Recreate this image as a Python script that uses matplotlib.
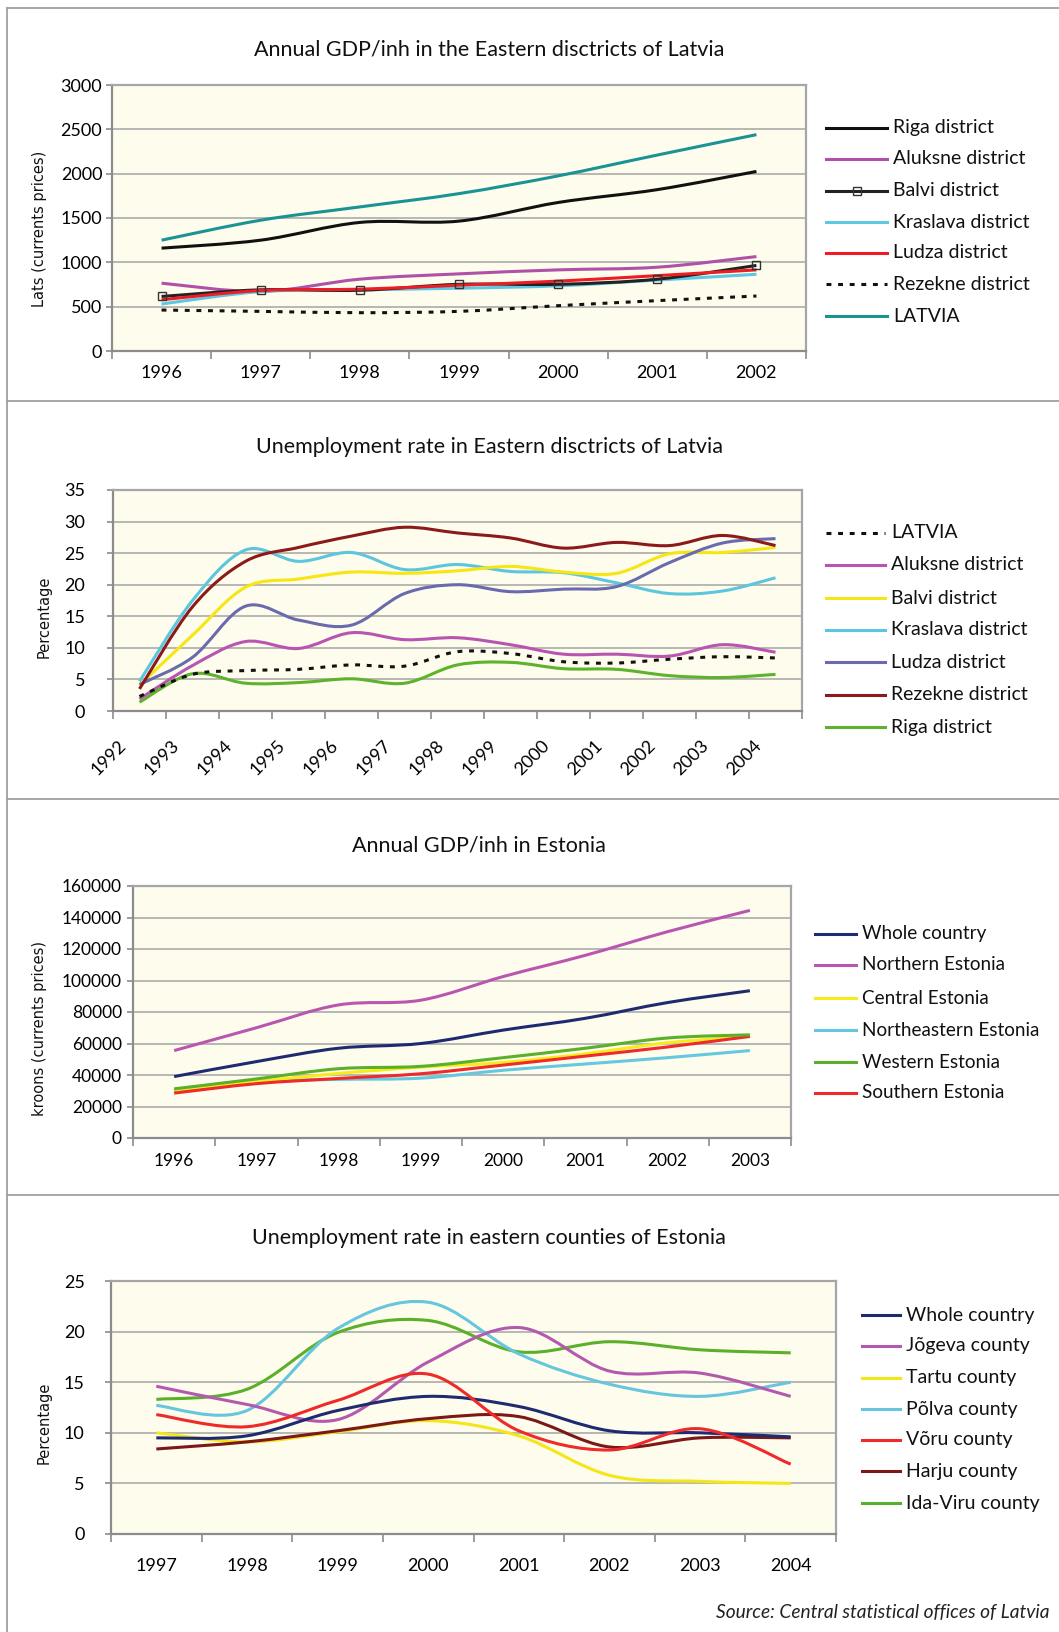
import numpy as np
import matplotlib
matplotlib.use('Agg')
import matplotlib.pyplot as plt
from matplotlib.path import Path
from matplotlib.patches import PathPatch
from matplotlib.lines import Line2D
from matplotlib.transforms import ScaledTranslation

W, H = 1059, 1632

# GDP per inhabitant, eastern districts of Latvia (lats, current prices)
lv_gdp_years = ['1996', '1997', '1998', '1999', '2000', '2001', '2002']
lv_gdp_riga = [1160, 1250, 1450, 1465, 1675, 1820, 2025]
lv_gdp_aluksne = [765, 672, 810, 870, 915, 945, 1065]
lv_gdp_balvi = [615, 690, 685, 752, 752, 810, 965]
lv_gdp_kraslava = [530, 670, 690, 708, 735, 800, 865]
lv_gdp_ludza = [578, 682, 697, 742, 788, 850, 915]
lv_gdp_rezekne = [462, 447, 432, 447, 511, 568, 620]
lv_gdp_latvia = [1250, 1475, 1625, 1775, 1975, 2210, 2440]

# unemployment rate, eastern districts of Latvia (%)
lv_un_years = ['1992', '1993', '1994', '1995', '1996', '1997', '1998',
               '1999', '2000', '2001', '2002', '2003', '2004']
lv_un_latvia = [2.3, 5.8, 6.4, 6.6, 7.3, 7.1, 9.4, 9.1, 7.8, 7.6, 8.2, 8.6, 8.4]
lv_un_aluksne = [1.9, 7.2, 11.0, 9.9, 12.4, 11.3, 11.6, 10.5, 9.0, 9.0, 8.7, 10.5, 9.3]
lv_un_balvi = [4.1, 12.0, 19.6, 20.9, 22.0, 21.8, 22.2, 22.9, 22.0, 21.8, 24.9, 25.1, 25.9]
lv_un_kraslava = [4.7, 17.5, 25.5, 23.7, 25.1, 22.4, 23.2, 22.1, 21.9, 20.3, 18.6, 19.0, 21.1]
lv_un_ludza = [4.2, 8.5, 16.6, 14.4, 13.6, 18.6, 20.0, 18.9, 19.3, 19.7, 23.5, 26.6, 27.3]
lv_un_rezekne = [3.5, 16.5, 23.7, 25.9, 27.7, 29.1, 28.2, 27.4, 25.8, 26.7, 26.2, 27.8, 26.2]
lv_un_riga = [1.4, 5.9, 4.4, 4.5, 5.1, 4.4, 7.3, 7.7, 6.7, 6.6, 5.6, 5.3, 5.8]

# GDP per inhabitant, Estonia (kroons, current prices)
ee_gdp_years = ['1996', '1997', '1998', '1999', '2000', '2001', '2002', '2003']
ee_gdp_whole = [39000, 48500, 57000, 60000, 68500, 76000, 86000, 93500]
ee_gdp_northern = [55500, 70000, 84500, 87500, 102500, 116000, 131000, 144500]
ee_gdp_central = [30500, 35800, 41000, 45000, 48000, 53500, 60500, 64500]
ee_gdp_northeastern = [29800, 35800, 37200, 38000, 43000, 47000, 51000, 55500]
ee_gdp_western = [31200, 37500, 44000, 45500, 51000, 57000, 63500, 65500]
ee_gdp_southern = [28500, 34500, 37800, 40800, 46300, 52000, 57800, 64500]

# unemployment rate, eastern counties of Estonia (%)
ee_un_years = ['1997', '1998', '1999', '2000', '2001', '2002', '2003', '2004']
ee_un_whole = [9.5, 9.7, 12.2, 13.6, 12.6, 10.2, 10.0, 9.6]
ee_un_jogeva = [14.6, 12.8, 11.3, 17.0, 20.4, 16.1, 15.9, 13.6]
ee_un_tartu = [10.0, 9.1, 10.1, 11.2, 9.7, 5.8, 5.2, 5.0]
ee_un_polva = [12.7, 12.2, 20.3, 22.9, 17.8, 14.8, 13.6, 15.0]
ee_un_voru = [11.8, 10.6, 13.2, 15.8, 10.2, 8.3, 10.4, 6.9]
ee_un_harju = [8.4, 9.1, 10.2, 11.4, 11.6, 8.6, 9.5, 9.5]
ee_un_idaviru = [13.3, 14.3, 19.9, 21.1, 18.0, 19.0, 18.2, 17.9]

plt.rcParams['font.family'] = 'Lato'

BG = '#fefcec'
GRID = '#ababab'
LW = 2.2
DOTS = (0, (1.6, 2.2))

fig = plt.figure(figsize=(W / 100, H / 100), dpi=100)


def px_axes(left, right, top, bottom):
    return fig.add_axes([left / W, 1 - bottom / H, (right - left) / W, (bottom - top) / H])


def smooth_path(ys):
    # cubic bezier through every point, like a spreadsheet "smoothed line"
    pts = np.column_stack([np.arange(len(ys)), np.asarray(ys, float)])
    ext = np.vstack([pts[0], pts, pts[-1]])
    verts = [pts[0]]
    codes = [Path.MOVETO]
    for i in range(len(pts) - 1):
        p0, p1, p2, p3 = ext[i], ext[i + 1], ext[i + 2], ext[i + 3]
        verts += [p1 + (p2 - p0) / 6, p2 - (p3 - p1) / 6, p2]
        codes += [Path.CURVE4] * 3
    return Path(verts, codes)


def draw_series(ax, ys, color, ls='-'):
    ax.add_patch(PathPatch(smooth_path(ys), fill=False, edgecolor=color, lw=LW,
                           linestyle=ls, capstyle='butt', joinstyle='round', zorder=3))


def style_axes(ax, cats, ymax, ystep, xpad=9, ypad=3, size=13):
    n = len(cats)
    ax.set_facecolor(BG)
    ax.set_xlim(-0.5, n - 0.5)
    ax.set_ylim(0, ymax)
    ax.set_yticks(np.arange(0, ymax + ystep / 2, ystep))
    ax.yaxis.grid(True, color=GRID, lw=1.2)
    ax.set_axisbelow(True)
    ax.set_xticks(np.arange(n + 1) - 0.5)
    ax.set_xticklabels([])
    ax.set_xticks(np.arange(n), minor=True)
    ax.set_xticklabels(cats, minor=True)
    ax.tick_params(axis='x', which='major', length=6, width=1.2, color='#8c8c8c')
    ax.tick_params(axis='x', which='minor', length=0, pad=xpad, labelsize=size)
    ax.tick_params(axis='y', length=4, width=1.2, color='#8c8c8c', pad=ypad, labelsize=size)
    for s in ax.spines.values():
        s.set_color('#a6a6a6')
        s.set_linewidth(1.6)
    ax.spines['left'].set_color('#8c8c8c')
    ax.spines['bottom'].set_color('#8c8c8c')


def draw_key(x0, x1, rows, entries, size=14):
    for y, (label, color, ls, marker) in zip(rows, entries):
        yy = 1 - y / H
        xm = (x0 + x1) / 2
        fig.add_artist(Line2D([x0 / W, xm / W, x1 / W], [yy] * 3, transform=fig.transFigure,
                              color=color, lw=LW, linestyle=ls, marker=marker, markevery=[1],
                              ms=6, mfc='none', mec='#333333', mew=1.0))
        fig.text((x1 + 6) / W, yy, label, va='center', ha='left', fontsize=size, color='#111111')


def ylabel(x, y, text):
    fig.text(x / W, 1 - y / H, text, rotation=90, ha='center', va='center',
             fontsize=10.5, family='DejaVu Sans', color='#111111')


def title(x, y, text):
    fig.text(x / W, 1 - y / H, text, ha='center', va='center', fontsize=15.5, color='#111111')


# frame and separators between the four panels
for yline in (8, 401, 799, 1195):
    fig.add_artist(Line2D([7 / W, 1], [1 - yline / H] * 2, transform=fig.transFigure,
                          color='#a0a0a0', lw=1.3))
fig.add_artist(Line2D([7 / W, 7 / W], [0, 1 - 8 / H], transform=fig.transFigure,
                      color='#a0a0a0', lw=1.3))

# --- panel 1: GDP per inhabitant, Latvia
ax1 = px_axes(112, 806, 85, 351)
style_axes(ax1, lv_gdp_years, 3000, 500, xpad=10, ypad=3)
draw_series(ax1, lv_gdp_latvia, '#1a9393')
draw_series(ax1, lv_gdp_aluksne, '#b050a8')
draw_series(ax1, lv_gdp_kraslava, '#5cc8e2')
draw_series(ax1, lv_gdp_balvi, '#222222')
draw_series(ax1, lv_gdp_ludza, '#ee1c24')
draw_series(ax1, lv_gdp_riga, '#111111')
draw_series(ax1, lv_gdp_rezekne, '#111111', DOTS)
ax1.plot(range(len(lv_gdp_balvi)), lv_gdp_balvi, ls='none', marker='s', ms=6,
         mfc='none', mec='#333333', mew=1.0, zorder=4)
title(489, 49, 'Annual GDP/inh in the Eastern disctricts of Latvia')
ylabel(40, 229, 'Lats (currents prices)')
draw_key(826, 887, [128, 159, 191, 222, 253, 284, 316], [
    ('Riga district', '#111111', '-', None),
    ('Aluksne district', '#b050a8', '-', None),
    ('Balvi district', '#222222', '-', 's'),
    ('Kraslava district', '#5cc8e2', '-', None),
    ('Ludza district', '#ee1c24', '-', None),
    ('Rezekne district', '#111111', DOTS, None),
    ('LATVIA', '#1a9393', '-', None),
])

# --- panel 2: unemployment, Latvia
ax2 = px_axes(113, 802, 490, 711)
style_axes(ax2, lv_un_years, 35, 5, xpad=19, ypad=16)
draw_series(ax2, lv_un_kraslava, '#5cc6de')
draw_series(ax2, lv_un_balvi, '#f5e614')
draw_series(ax2, lv_un_ludza, '#6a6aae')
draw_series(ax2, lv_un_rezekne, '#8b1a1a')
draw_series(ax2, lv_un_aluksne, '#b855b0')
draw_series(ax2, lv_un_riga, '#5db22e')
draw_series(ax2, lv_un_latvia, '#111111', DOTS)
for lab in ax2.get_xticklabels(minor=True):
    lab.set_rotation(45)
    lab.set_rotation_mode('anchor')
    lab.set_ha('right')
    lab.set_va('top')
    lab.set_transform(lab.get_transform() + ScaledTranslation(-0.22, 0, fig.dpi_scale_trans))
title(489, 447, 'Unemployment rate in Eastern disctricts of Latvia')
ylabel(44, 617, 'Percentage')
draw_key(826, 885, [533, 565, 598, 630, 662, 695, 727], [
    ('LATVIA', '#111111', DOTS, None),
    ('Aluksne district', '#b855b0', '-', None),
    ('Balvi district', '#f5e614', '-', None),
    ('Kraslava district', '#5cc6de', '-', None),
    ('Ludza district', '#6a6aae', '-', None),
    ('Rezekne district', '#8b1a1a', '-', None),
    ('Riga district', '#5db22e', '-', None),
])

# --- panel 3: GDP per inhabitant, Estonia
ax3 = px_axes(133, 791, 886, 1138)
style_axes(ax3, ee_gdp_years, 160000, 20000, xpad=11, ypad=4, size=12.5)
draw_series(ax3, ee_gdp_northeastern, '#64c8e0')
draw_series(ax3, ee_gdp_central, '#f8eb1c')
draw_series(ax3, ee_gdp_southern, '#ee2a2a')
draw_series(ax3, ee_gdp_western, '#5ab02a')
draw_series(ax3, ee_gdp_whole, '#1e2b70')
draw_series(ax3, ee_gdp_northern, '#b956b0')
title(479, 845, 'Annual GDP/inh in Estonia')
ylabel(40, 1028, 'kroons (currents prices)')
draw_key(815, 856, [934, 965, 998, 1030, 1062, 1093], [
    ('Whole country', '#1e2b70', '-', None),
    ('Northern Estonia', '#b956b0', '-', None),
    ('Central Estonia', '#f8eb1c', '-', None),
    ('Northeastern Estonia', '#64c8e0', '-', None),
    ('Western Estonia', '#5ab02a', '-', None),
    ('Southern Estonia', '#ee2a2a', '-', None),
], size=13.6)

# --- panel 4: unemployment, Estonia
ax4 = px_axes(111, 836, 1281, 1534)
style_axes(ax4, ee_un_years, 25, 5, xpad=17, ypad=15)
draw_series(ax4, ee_un_idaviru, '#5ab02a')
draw_series(ax4, ee_un_polva, '#66c6de')
draw_series(ax4, ee_un_jogeva, '#b45aae')
draw_series(ax4, ee_un_tartu, '#f5e61a')
draw_series(ax4, ee_un_harju, '#7b1818')
draw_series(ax4, ee_un_whole, '#1e2b70')
draw_series(ax4, ee_un_voru, '#ee2a2a')
title(489, 1238, 'Unemployment rate in eastern counties of Estonia')
ylabel(44, 1423, 'Percentage')
draw_key(862, 900, [1315, 1346, 1378, 1409, 1440, 1471, 1503], [
    ('Whole country', '#1e2b70', '-', None),
    ('Jõgeva county', '#b45aae', '-', None),
    ('Tartu county', '#f5e61a', '-', None),
    ('Põlva county', '#66c6de', '-', None),
    ('Võru county', '#ee2a2a', '-', None),
    ('Harju county', '#7b1818', '-', None),
    ('Ida-Viru county', '#5ab02a', '-', None),
])

fig.text(1049 / W, 1 - 1613 / H, 'Source: Central statistical offices of Latvia',
         ha='right', va='center', fontsize=13.8, style='italic', color='#222222')

fig.savefig('out.png', dpi=100, facecolor='white')
